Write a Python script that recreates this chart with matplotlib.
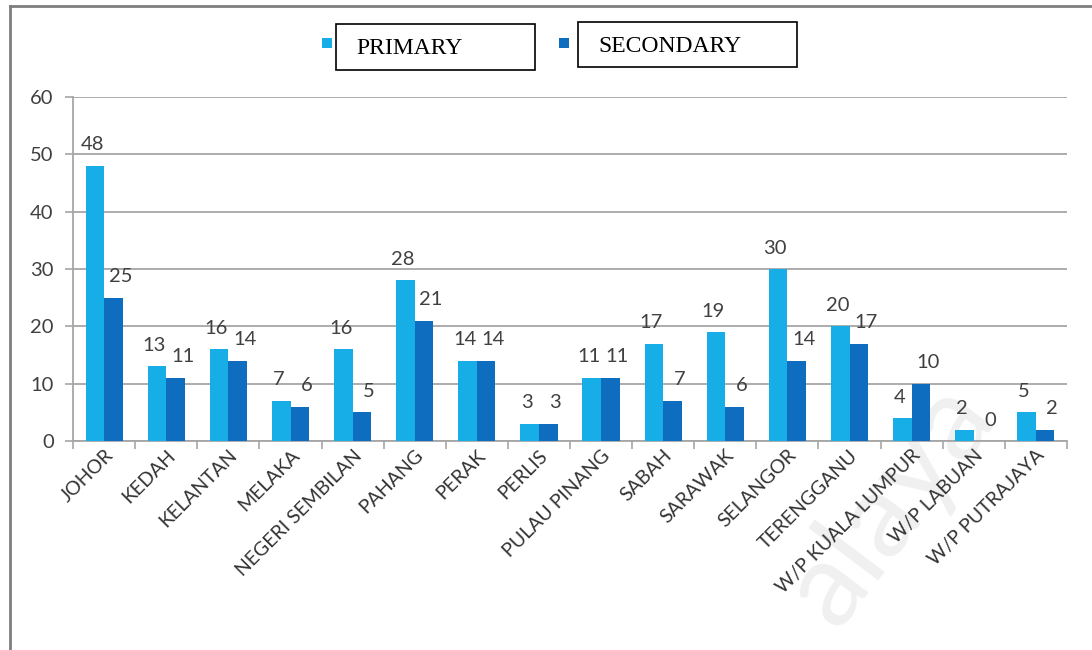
import numpy as np
import matplotlib
matplotlib.use("Agg")
import matplotlib.pyplot as plt
from matplotlib.lines import Line2D
from matplotlib.patches import Rectangle
import matplotlib.transforms as mtransforms

# data
states = ["JOHOR", "KEDAH", "KELANTAN", "MELAKA", "NEGERI SEMBILAN", "PAHANG",
          "PERAK", "PERLIS", "PULAU PINANG", "SABAH", "SARAWAK", "SELANGOR",
          "TERENGGANU", "W/P KUALA LUMPUR", "W/P LABUAN", "W/P PUTRAJAYA"]
primary = [48, 13, 16, 7, 16, 28, 14, 3, 11, 17, 19, 30, 20, 4, 2, 5]
secondary = [25, 11, 14, 6, 5, 21, 14, 3, 11, 7, 6, 14, 17, 10, 0, 2]
yticks = [0, 10, 20, 30, 40, 50, 60]

c_prim = "#17AEE8"
c_sec = "#0F6DBF"
grey = "#A6A6A6"
txt = "#404040"
sans = ["Lato", "DejaVu Sans"]

fig = plt.figure(figsize=(10.92, 6.5), dpi=100)
fig.patch.set_facecolor("white")

# faint watermark behind the chart
fig.text(0.815, 0.225, "alaya", rotation=53, fontsize=86, color="#f0f0f0",
         ha="center", va="center", family=sans, zorder=0)

ax = fig.add_axes([0.067, 0.3215, 0.910, 0.5293])
ax.set_zorder(1)
ax.patch.set_alpha(0)

x = np.arange(len(states))
w = 0.3
ax.bar(x - w / 2, primary, w, color=c_prim, zorder=3)
ax.bar(x + w / 2, secondary, w, color=c_sec, zorder=3)

# data labels
for i in range(len(states)):
    ax.annotate(str(primary[i]), (x[i] - w / 2, primary[i]), xytext=(-2, 9),
                textcoords="offset points", ha="center", va="bottom",
                fontsize=14.5, color=txt, family=sans)
    ax.annotate(str(secondary[i]), (x[i] + w / 2, secondary[i]), xytext=(5, 9),
                textcoords="offset points", ha="center", va="bottom",
                fontsize=14.5, color=txt, family=sans)

ax.set_xlim(-0.5, len(states) - 0.5)
ax.set_ylim(0, 60)
ax.set_yticks(yticks)
ax.set_yticklabels([str(v) for v in yticks], fontsize=14.5, color=txt, family=sans)
ax.yaxis.grid(True, color=grey, lw=1.3, zorder=0)
ax.tick_params(axis="y", length=6, color=grey, width=1.2, pad=8)

ax.set_xticks(x)
ax.set_xticklabels(states, rotation=45, ha="right", rotation_mode="anchor",
                   fontsize=14, color="#333333", family=sans)
offset = mtransforms.ScaledTranslation(10 / 100, -13 / 100, fig.dpi_scale_trans)
for lab in ax.get_xticklabels():
    lab.set_transform(lab.get_transform() + offset)
ax.tick_params(axis="x", which="major", length=0, pad=4)
ax.set_xticks(np.arange(-0.5, len(states)), minor=True)
ax.tick_params(axis="x", which="minor", length=6, color=grey, width=1.2)

for s in ["top", "right"]:
    ax.spines[s].set_visible(False)
for s in ["left", "bottom"]:
    ax.spines[s].set_color(grey)
    ax.spines[s].set_linewidth(1.3)

# legend drawn by hand: square marker + boxed label
def legend_item(sq_x, box_x0, box_x1, y0, y1, label, color):
    fig.add_artist(Rectangle((sq_x / 1092, 1 - 48 / 650), 10 / 1092, 10 / 650,
                             transform=fig.transFigure, color=color, lw=0))
    fig.add_artist(Rectangle((box_x0 / 1092, 1 - y1 / 650),
                             (box_x1 - box_x0) / 1092, (y1 - y0) / 650,
                             transform=fig.transFigure, fill=False,
                             edgecolor="black", lw=1.2))
    fig.text((box_x0 + 20) / 1092, 1 - (y0 + y1) / 2 / 650 - 0.003, label,
             ha="left", va="center", fontsize=17, family="Liberation Serif",
             color="black")

legend_item(322, 336, 535, 24, 70, "PRIMARY", c_prim)
legend_item(559, 578, 797, 22, 67, "SECONDARY", c_sec)

# outer frame (top and left only)
fig.add_artist(Line2D([10 / 1092, 1.0], [1 - 6 / 650, 1 - 6 / 650],
                      transform=fig.transFigure, color="#7f7f7f", lw=2))
fig.add_artist(Line2D([10 / 1092, 10 / 1092], [0, 1 - 6 / 650],
                      transform=fig.transFigure, color="#7f7f7f", lw=2))

fig.savefig("out.png", dpi=100, facecolor="white")
